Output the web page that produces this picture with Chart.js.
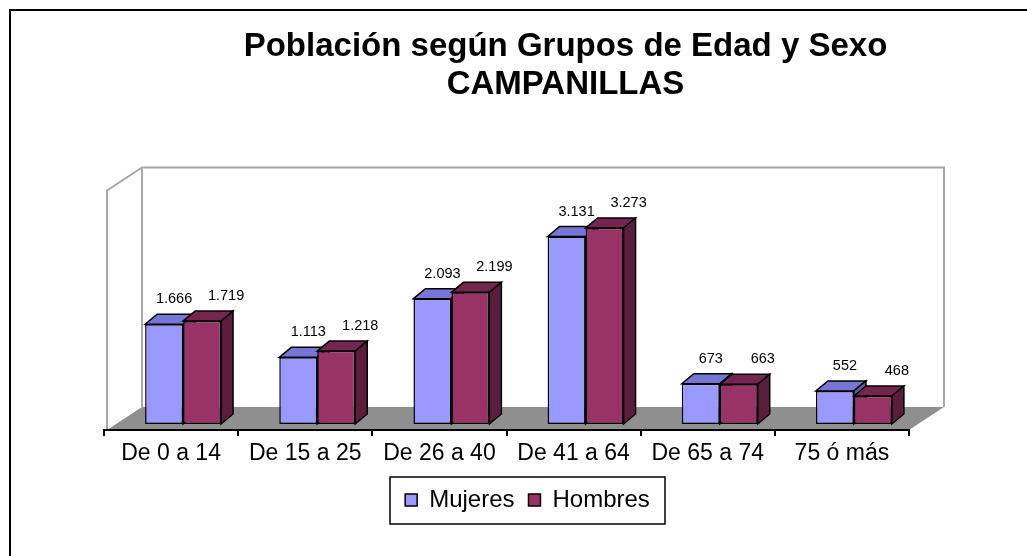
<!DOCTYPE html>
<html><head><meta charset="utf-8">
<script src="https://cdn.jsdelivr.net/npm/chart.js@4/dist/chart.umd.min.js"></script>
<style>html,body{margin:0;padding:0;background:#fff}</style>
</head><body>
<canvas id="c" width="1027" height="556"></canvas>
<script>
const categories = ['De 0 a 14', 'De 15 a 25', 'De 26 a 40', 'De 41 a 64', 'De 65 a 74', '75 ó más'];
const mujeres = [1666, 1113, 2093, 3131, 673, 552];
const hombres = [1719, 1218, 2199, 3273, 663, 468];
const seriesNames = ['Mujeres', 'Hombres'];
const titleLines = ['Población según Grupos de Edad y Sexo', 'CAMPANILLAS'];
const yMin = 0;
const yMax = 4000;

const FRONT = ['#9999FF', '#993366'];
const TOPC = ['#7676D8', '#74264E'];
const SIDEC = ['#5E5EB2', '#5A1D3C'];
const BAR_SHIFT = {x: 12, y: -6};
const BAR_DEPTH = {x: 12, y: -10};
const WALL_DEPTH = {x: 35, y: -23};
const LABEL_DX = [10, 24];
const LABEL_DY = -21;

Chart.defaults.font.family = "'Liberation Sans', Arial, Helvetica, sans-serif";
Chart.defaults.color = '#000';

function fmt(v) { return String(v).replace(/\B(?=(\d{3})+(?!\d))/g, '.'); }

function poly(ctx, pts, fill) {
  ctx.beginPath();
  ctx.moveTo(pts[0][0], pts[0][1]);
  for (let i = 1; i < pts.length; i++) ctx.lineTo(pts[i][0], pts[i][1]);
  ctx.closePath();
  ctx.fillStyle = fill;
  ctx.fill();
  ctx.lineWidth = 1.5;
  ctx.strokeStyle = '#000';
  ctx.stroke();
}

const depthPlugin = {
  id: 'depth',
  afterLayout(chart) {
    const lg = chart.legend;
    lg.left = 390; lg.right = 665; lg.width = lg.right - lg.left;
  },
  beforeDraw(chart) {
    const ctx = chart.ctx, a = chart.chartArea, D = WALL_DEPTH;
    ctx.save();
    ctx.lineWidth = 2; ctx.strokeStyle = '#000';
    ctx.strokeRect(10, 10, 2000, 2000);
    const fl = a.left + 3;
    ctx.strokeStyle = '#a8a8a8'; ctx.lineWidth = 2;
    ctx.beginPath();
    ctx.moveTo(fl, a.bottom); ctx.lineTo(fl, a.top);
    ctx.lineTo(fl + D.x, a.top + D.y);
    ctx.lineTo(a.right + D.x, a.top + D.y);
    ctx.lineTo(a.right + D.x, a.bottom + D.y);
    ctx.moveTo(fl + D.x, a.top + D.y); ctx.lineTo(fl + D.x, a.bottom + D.y);
    ctx.stroke();
    ctx.beginPath();
    ctx.moveTo(fl, a.bottom);
    ctx.lineTo(fl + D.x, a.bottom + D.y);
    ctx.lineTo(a.right + D.x, a.bottom + D.y);
    ctx.lineTo(a.right, a.bottom);
    ctx.closePath();
    ctx.fillStyle = '#8f8f8f';
    ctx.fill();
    ctx.restore();
  },
  beforeDatasetDraw() { return false; },
  afterDatasetsDraw(chart) {
    const ctx = chart.ctx, B = BAR_DEPTH;
    ctx.save();
    ctx.translate(BAR_SHIFT.x, BAR_SHIFT.y);
    const metas = [chart.getDatasetMeta(0), chart.getDatasetMeta(1)];
    for (let i = 0; i < categories.length; i++) {
      for (let d = 0; d < 2; d++) {
        const el = metas[d].data[i];
        const L = el.x - el.width / 2, R = el.x + el.width / 2, T = el.y, Bs = el.base;
        el.draw(ctx);
        poly(ctx, [[L, T], [L + B.x, T + B.y], [R + B.x, T + B.y], [R, T]], TOPC[d]);
        poly(ctx, [[R, T], [R + B.x, T + B.y], [R + B.x, Bs + B.y], [R, Bs]], SIDEC[d]);
      }
    }
    ctx.font = "14.5px 'Liberation Sans', Arial, sans-serif";
    ctx.fillStyle = '#000';
    ctx.textAlign = 'center';
    ctx.textBaseline = 'alphabetic';
    for (let d = 0; d < 2; d++) {
      const ds = chart.data.datasets[d];
      metas[d].data.forEach((el, i) => {
        ctx.fillText(fmt(ds.data[i]), el.x + LABEL_DX[d], el.y + LABEL_DY);
      });
    }
    ctx.restore();
  },
  afterDraw(chart) {
    const ctx = chart.ctx, lg = chart.legend;
    ctx.save();
    ctx.lineWidth = 1.5; ctx.strokeStyle = '#000';
    ctx.strokeRect(lg.left, lg.top + 3, lg.right - lg.left, 47);
    ctx.restore();
  }
};

new Chart(document.getElementById('c'), {
  type: 'bar',
  data: {
    labels: categories,
    datasets: [
      {label: seriesNames[0], data: mujeres, backgroundColor: FRONT[0], borderColor: '#000', borderWidth: 1.5, borderSkipped: false, clip: false},
      {label: seriesNames[1], data: hombres, backgroundColor: FRONT[1], borderColor: '#000', borderWidth: 1.5, borderSkipped: false, clip: false}
    ]
  },
  options: {
    responsive: false,
    animation: false,
    devicePixelRatio: 1,
    categoryPercentage: 0.566,
    barPercentage: 1.0,
    layout: {padding: {left: 104, right: 0, top: 0, bottom: 34}},
    scales: {
      x: {
        grid: {display: true, drawOnChartArea: false, drawTicks: true, tickLength: 6, color: '#000', lineWidth: 2, offset: true},
        border: {display: true, color: '#000', width: 2, z: 1},
        ticks: {font: {size: 23}, color: '#000', padding: 4},
        afterFit(s) { s.height = 44; }
      },
      y: {
        position: 'right',
        min: yMin, max: yMax,
        grid: {display: false},
        border: {display: false},
        ticks: {display: false},
        afterFit(s) { s.width = 118; }
      }
    },
    plugins: {
      title: {
        display: true,
        text: titleLines,
        color: '#000',
        font: {size: 33, weight: 'bold', lineHeight: '38px'},
        padding: {top: 28, bottom: 86.5}
      },
      legend: {
        position: 'bottom',
        labels: {
          boxWidth: 12, boxHeight: 12, padding: 14,
          font: {size: 24}, color: '#000',
          sort: (a, b) => a.datasetIndex - b.datasetIndex
        }
      },
      tooltip: {enabled: false}
    }
  },
  plugins: [depthPlugin]
});
</script>
</body></html>
